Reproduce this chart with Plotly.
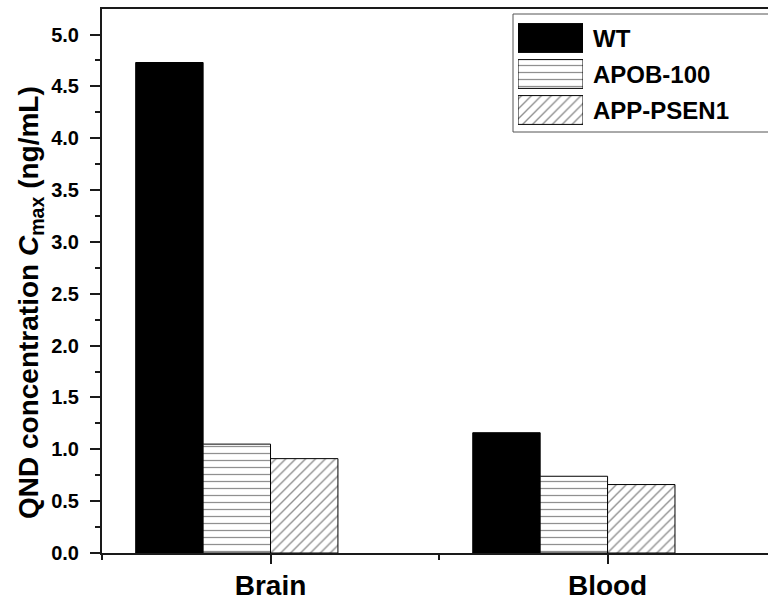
import plotly.graph_objects as go

# Data
tissues = ["Brain", "Blood"]
groups = ["WT", "APOB-100", "APP-PSEN1"]
wt_values = [4.73, 1.16]
apob_values = [1.05, 0.74]
app_values = [0.91, 0.66]
y_ticks = [0.0, 0.5, 1.0, 1.5, 2.0, 2.5, 3.0, 3.5, 4.0, 4.5, 5.0]

FONT = "Arial, Liberation Sans, sans-serif"
x_pos = list(range(len(tissues)))
BAR_W = 0.2
# bar offsets relative to each category position
offsets = {"WT": -0.4, "APOB-100": -0.2, "APP-PSEN1": 0.0}

styles = {
    "WT": dict(color="black", pattern=dict(shape="")),
    "APOB-100": dict(color="white", pattern=dict(shape="-", size=7, solidity=0.18,
                                                  fgcolor="#222222", bgcolor="white")),
    "APP-PSEN1": dict(color="white", pattern=dict(shape="/", size=7, solidity=0.2,
                                                   fgcolor="#222222", bgcolor="white")),
}
series = {"WT": wt_values, "APOB-100": apob_values, "APP-PSEN1": app_values}

fig = go.Figure()
for name in groups:
    st = styles[name]
    fig.add_trace(go.Bar(
        x=x_pos, y=series[name], name=name, showlegend=False,
        width=BAR_W, offset=offsets[name],
        marker=dict(color=st["color"], pattern=st["pattern"],
                    line=dict(color="black", width=1)),
    ))

# Legend swatches drawn as a small inset bar chart
for name in groups:
    st = styles[name]
    fig.add_trace(go.Bar(
        x=[1], y=[name], orientation="h", xaxis="x2", yaxis="y2", showlegend=False,
        marker=dict(color=st["color"], pattern=st["pattern"],
                    line=dict(color="black", width=1)),
        hoverinfo="skip",
    ))
    fig.add_annotation(x=1, y=name, xref="x2", yref="y2", text=name,
                       showarrow=False, xanchor="left", xshift=8,
                       font=dict(family=FONT, size=24, color="black", weight="bold"))

W, H = 768, 601
ml, mr, mt, mb = 102, 0, 9, 48
pw, ph = W - ml - mr, H - mt - mb

def px_x(p):
    return (p - ml) / pw

def px_y(p):
    return (H - mb - p) / ph

fig.add_shape(type="rect", xref="paper", yref="paper",
              x0=px_x(513), x1=1.2, y0=px_y(132), y1=px_y(14),
              line=dict(color="#555555", width=1), fillcolor="white", layer="below")

# y-axis title
fig.add_annotation(
    x=px_x(30), y=px_y(303), xref="paper", yref="paper",
    text="QND concentration <i>C</i><sub>max</sub> (ng/mL)", textangle=-90,
    showarrow=False, xanchor="center", yanchor="middle",
    font=dict(family=FONT, size=28, color="black", weight="bold"),
)

fig.update_layout(
    width=W, height=H,
    margin=dict(l=ml, r=mr, t=mt, b=mb),
    paper_bgcolor="white", plot_bgcolor="white",
    barmode="overlay",
    font=dict(family=FONT, color="black"),
    xaxis=dict(
        range=[-0.5, 1.476], tickvals=x_pos, ticktext=tissues,
        showgrid=False, zeroline=False,
        showline=True, linecolor="#1a1a1a", linewidth=2, mirror=True,
        ticks="outside", ticklen=9, tickwidth=2, tickcolor="#1a1a1a",
        minor=dict(tickvals=[-0.5, 0.5, 1.5], ticks="outside", ticklen=5,
                   tickwidth=1.5, tickcolor="#1a1a1a"),
        tickfont=dict(family=FONT, size=28, weight="bold"),
        ticklabelstandoff=-3,
    ),
    yaxis=dict(
        range=[0, 5.246], tickvals=y_ticks, ticktext=[f"{v:.1f}" for v in y_ticks],
        showgrid=False, zeroline=False,
        showline=True, linecolor="#1a1a1a", linewidth=2,
        ticks="outside", ticklen=10, tickwidth=2, tickcolor="#1a1a1a",
        minor=dict(dtick=0.25, ticks="outside", ticklen=5, tickwidth=1.5,
                   tickcolor="#1a1a1a"),
        tickfont=dict(family=FONT, size=20, weight="bold"),
        ticklabelstandoff=7,
    ),
    xaxis2=dict(domain=[px_x(518), px_x(583)], anchor="y2", range=[0, 1],
                visible=False, fixedrange=True),
    yaxis2=dict(domain=[px_y(128), px_y(20)], anchor="x2", visible=False,
                categoryorder="array", categoryarray=groups[::-1], fixedrange=True),
)

fig.write_html("out.html")
